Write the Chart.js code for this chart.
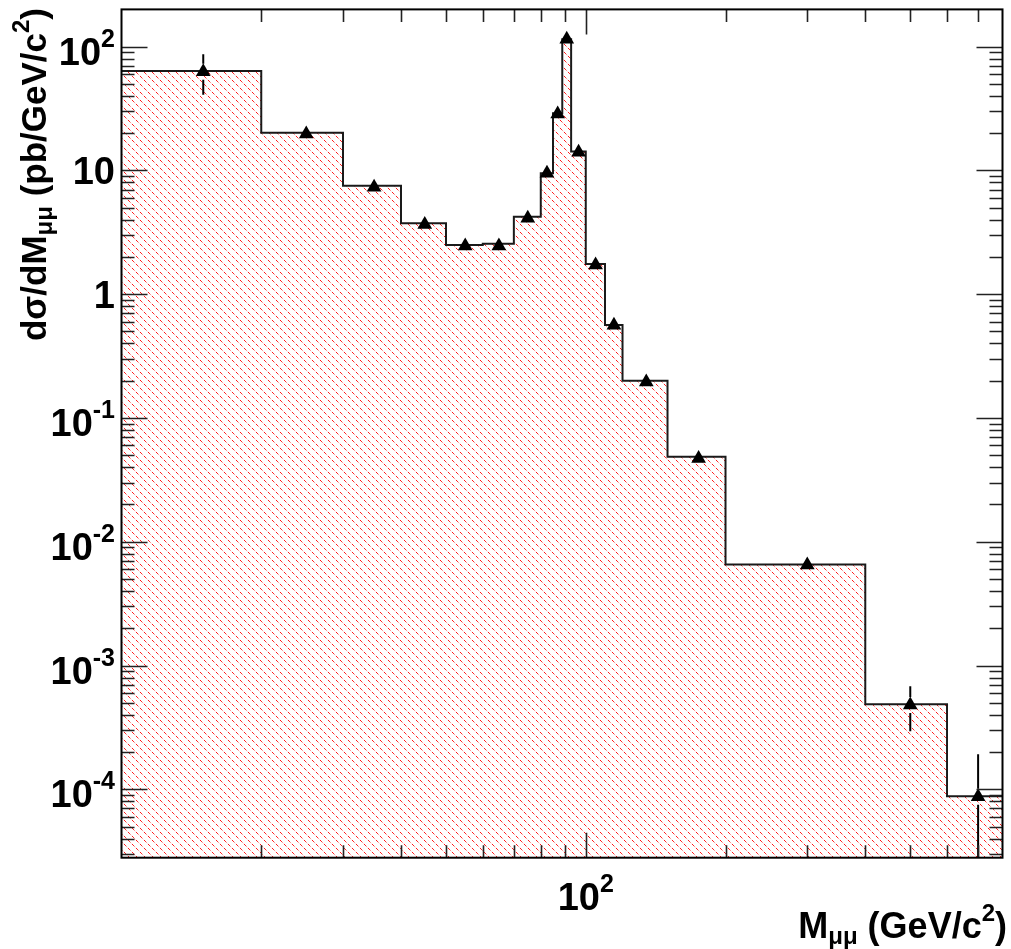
<!DOCTYPE html>
<html>
<head>
<meta charset="utf-8">
<script src="https://cdn.jsdelivr.net/npm/chart.js@4.4.0/dist/chart.umd.min.js"></script>
<style>
    body { margin: 0; background: #fff; }
</style>
</head>
<body>
<canvas id="myChart" width="1011" height="949"></canvas>
<script>
// bin edges, GeV/c^2
const binEdges = [10, 20, 30, 40, 50, 60, 70, 80, 85, 89, 93, 100, 110, 120, 150, 200, 400, 600, 800];
// simulated histogram (hatched), pb/GeV/c^2
const mcValues = [63.6, 20.2, 7.53, 3.74, 2.50, 2.56, 4.23, 9.5, 29.0, 115, 14.2, 1.75, 0.564, 0.200, 0.0486, 0.00656, 0.000487, 0.000088];
// measured points (triangles) and their errors
const dataValues = [62.8, 19.7, 7.3, 3.65, 2.45, 2.45, 4.1, 9.5, 28.6, 115, 14.0, 1.72, 0.56, 0.195, 0.047, 0.0065, 0.00048, 0.000087];
const dataErrUp = [24, 0.9, 0.3, 0.15, 0.1, 0.1, 0.15, 0.3, 0.8, 2.5, 0.5, 0.08, 0.03, 0.012, 0.004, 0.0007, 0.0002, 0.000105];
const dataErrDown = [22, 0.9, 0.3, 0.15, 0.1, 0.1, 0.15, 0.3, 0.8, 2.5, 0.5, 0.08, 0.03, 0.012, 0.004, 0.0007, 0.000185, 0.000087];

// axis ticks and labels
const yTickValues = [1e-4, 1e-3, 1e-2, 1e-1, 1, 10, 100];
const yTickBase = ['10', '10', '10', '10', '1', '10', '10'];
const yTickExp = ['-4', '-3', '-2', '-1', '', '', '2'];
const xTickValues = [100];
const xTickBase = ['10'];
const xTickExp = ['2'];

const FONT = '"Liberation Sans", Arial, Helvetica, sans-serif';

function makeHatch(ctx) {
    const tile = document.createElement('canvas');
    tile.width = 8;
    tile.height = 8;
    const g = tile.getContext('2d');
    // one dashed diagonal per tile
    const shades = ['#ff1818', '#ff2a2a', '#ff9a9a', '#ffe0e0', '#ff1818', '#ff2a2a', '#ff9a9a', '#ffe0e0'];
    for (let k = 0; k < 8; k++) {
        g.fillStyle = shades[k];
        g.fillRect(k, k, 1, 1);
    }
    return ctx.createPattern(tile, 'repeat');
}

// draws text made of pieces: [text, size, baseline shift]
function drawRich(ctx, parts, x, y, align) {
    let total = 0;
    parts.forEach(p => {
        ctx.font = `bold ${p[1]}px ${FONT}`;
        total += ctx.measureText(p[0]).width;
    });
    let cx = x;
    if (align === 'right') cx = x - total;
    if (align === 'center') cx = x - total / 2;
    parts.forEach(p => {
        ctx.font = `bold ${p[1]}px ${FONT}`;
        ctx.fillText(p[0], cx, y + p[2]);
        cx += ctx.measureText(p[0]).width;
    });
}

const errorBars = {
    id: 'errorBars',
    afterDatasetDraw(chart, args) {
        if (args.index !== 0) return;
        const { ctx, chartArea, scales } = chart;
        const gap = 8;
        ctx.save();
        ctx.beginPath();
        ctx.rect(chartArea.left, chartArea.top, chartArea.right - chartArea.left, chartArea.bottom - chartArea.top);
        ctx.clip();
        ctx.strokeStyle = '#000';
        ctx.lineWidth = 2;
        dataValues.forEach((v, i) => {
            const cx = scales.x.getPixelForValue((binEdges[i] + binEdges[i + 1]) / 2);
            const cy = scales.y.getPixelForValue(v);
            const hi = scales.y.getPixelForValue(v + dataErrUp[i]);
            const lowVal = v - dataErrDown[i];
            const lo = lowVal > 0 ? scales.y.getPixelForValue(lowVal) : chartArea.bottom;
            ctx.beginPath();
            if (hi < cy - gap) {
                ctx.moveTo(cx, hi);
                ctx.lineTo(cx, cy - gap);
            }
            if (lo > cy + gap) {
                ctx.moveTo(cx, cy + gap);
                ctx.lineTo(cx, Math.min(lo, chartArea.bottom));
            }
            ctx.stroke();
        });
        ctx.restore();
    }
};

const frameAndAxes = {
    id: 'frameAndAxes',
    afterDraw(chart) {
        const { ctx, chartArea, scales } = chart;
        const { left, right, top, bottom } = chartArea;
        ctx.save();

        // ticks on all four sides, pointing inward
        ctx.strokeStyle = '#222';
        ctx.lineWidth = 1.6;
        ctx.beginPath();
        const yMin = scales.y.min, yMax = scales.y.max;
        for (let d = -6; d <= 3; d++) {
            for (let m = 1; m <= 9; m++) {
                const v = m * Math.pow(10, d);
                if (v <= yMin || v >= yMax) continue;
                const len = m === 1 ? 26 : 13;
                const py = Math.round(scales.y.getPixelForValue(v)) + 0.5;
                ctx.moveTo(left, py); ctx.lineTo(left + len, py);
                ctx.moveTo(right, py); ctx.lineTo(right - len, py);
            }
        }
        const xMin = scales.x.min, xMax = scales.x.max;
        for (let d = 0; d <= 3; d++) {
            for (let m = 1; m <= 9; m++) {
                const v = m * Math.pow(10, d);
                if (v <= xMin || v >= xMax) continue;
                const len = m === 1 ? 25 : 12.5;
                const px = Math.round(scales.x.getPixelForValue(v)) + 0.5;
                ctx.moveTo(px, bottom); ctx.lineTo(px, bottom - len);
                ctx.moveTo(px, top); ctx.lineTo(px, top + len);
            }
        }
        ctx.stroke();

        // frame
        ctx.strokeStyle = '#000';
        ctx.lineWidth = 2;
        ctx.strokeRect(left, top, right - left, bottom - top);

        // tick labels
        ctx.fillStyle = '#000';
        ctx.textBaseline = 'alphabetic';
        yTickValues.forEach((v, i) => {
            const py = scales.y.getPixelForValue(v);
            const parts = [[yTickBase[i], 38, 0]];
            if (yTickExp[i]) parts.push([yTickExp[i], 25, -18]);
            drawRich(ctx, parts, 115, py + (yTickExp[i] ? 18 : 13.5), 'right');
        });
        xTickValues.forEach((v, i) => {
            const px = scales.x.getPixelForValue(v);
            drawRich(ctx, [[xTickBase[i], 38, 0], [xTickExp[i], 25, -18]], px, 910, 'center');
        });

        // axis titles
        drawRich(ctx, [['M', 36, 0], ['\u03bc\u03bc', 24, 6], [' (GeV/c', 36, 0], ['2', 24, -17], [')', 36, 0]], 1007, 938, 'right');

        ctx.translate(46, 8);
        ctx.rotate(-Math.PI / 2);
        drawRich(ctx, [['d\u03c3/dM', 35, 0], ['\u03bc\u03bc', 24, 6], [' (pb/GeV/c', 35, 0], ['2', 24, -17], [')', 35, 0]], 0, 0, 'right');
        ctx.restore();
    }
};

const canvas = document.getElementById('myChart');
const ctx = canvas.getContext('2d');

const histPoints = binEdges.map((e, i) => ({ x: e, y: mcValues[Math.min(i, mcValues.length - 1)] }));
const dataPoints = dataValues.map((v, i) => ({ x: (binEdges[i] + binEdges[i + 1]) / 2, y: v }));

new Chart(ctx, {
    type: 'line',
    data: {
        datasets: [{
            label: 'simulation',
            data: histPoints,
            stepped: 'before',
            borderColor: '#1a1a1a',
            borderWidth: 2,
            pointRadius: 0,
            fill: 'start',
            backgroundColor: makeHatch(ctx),
            order: 2
        }, {
            type: 'scatter',
            label: 'data',
            data: dataPoints,
            pointStyle: 'triangle',
            pointRadius: 8.5,
            backgroundColor: '#000',
            borderColor: '#000',
            borderWidth: 0,
            order: 1
        }]
    },
    options: {
        responsive: false,
        animation: false,
        events: [],
        layout: {
            padding: { left: 121.5, right: 4, top: 9.4, bottom: 91.3 }
        },
        scales: {
            x: { type: 'logarithmic', min: 10, max: 790, display: false },
            y: { type: 'logarithmic', min: 2.8e-5, max: 200, display: false }
        },
        plugins: {
            legend: { display: false },
            tooltip: { enabled: false }
        }
    },
    plugins: [errorBars, frameAndAxes]
});
</script>
</body>
</html>
